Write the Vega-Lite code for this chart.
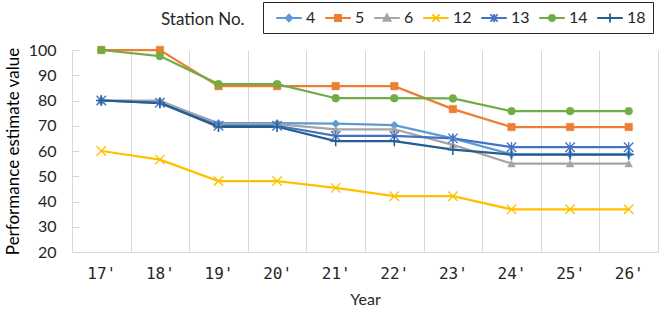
{
  "$schema": "https://vega.github.io/schema/vega-lite/v6.json",
  "width": 663,
  "height": 314,
  "autosize": {"type": "fit", "contains": "padding"},
  "padding": {"left": 4, "right": 5, "top": 11, "bottom": 7},
  "background": "white",
  "title": {
    "text": "Station No.",
    "anchor": "start",
    "frame": "group",
    "dx": 89,
    "offset": 13,
    "fontSize": 17,
    "fontWeight": "normal",
    "font": "Lato",
    "color": "#262626"
  },
  "data": {
    "values": [
      {"year": "17'", "station": "4", "value": 80}, {"year": "18'", "station": "4", "value": 79.6}, {"year": "19'", "station": "4", "value": 71}, {"year": "20'", "station": "4", "value": 71}, {"year": "21'", "station": "4", "value": 70.8}, {"year": "22'", "station": "4", "value": 70.2}, {"year": "23'", "station": "4", "value": 65}, {"year": "24'", "station": "4", "value": 58.7}, {"year": "25'", "station": "4", "value": 58.7}, {"year": "26'", "station": "4", "value": 58.7},
      {"year": "17'", "station": "5", "value": 100}, {"year": "18'", "station": "5", "value": 100}, {"year": "19'", "station": "5", "value": 85.7}, {"year": "20'", "station": "5", "value": 85.7}, {"year": "21'", "station": "5", "value": 85.7}, {"year": "22'", "station": "5", "value": 85.7}, {"year": "23'", "station": "5", "value": 76.6}, {"year": "24'", "station": "5", "value": 69.5}, {"year": "25'", "station": "5", "value": 69.5}, {"year": "26'", "station": "5", "value": 69.5},
      {"year": "17'", "station": "6", "value": 80}, {"year": "18'", "station": "6", "value": 80}, {"year": "19'", "station": "6", "value": 70.6}, {"year": "20'", "station": "6", "value": 70.6}, {"year": "21'", "station": "6", "value": 68.6}, {"year": "22'", "station": "6", "value": 68.6}, {"year": "23'", "station": "6", "value": 62.4}, {"year": "24'", "station": "6", "value": 55}, {"year": "25'", "station": "6", "value": 55}, {"year": "26'", "station": "6", "value": 55},
      {"year": "17'", "station": "12", "value": 60}, {"year": "18'", "station": "12", "value": 56.6}, {"year": "19'", "station": "12", "value": 48.1}, {"year": "20'", "station": "12", "value": 48.1}, {"year": "21'", "station": "12", "value": 45.4}, {"year": "22'", "station": "12", "value": 42.1}, {"year": "23'", "station": "12", "value": 42.1}, {"year": "24'", "station": "12", "value": 36.9}, {"year": "25'", "station": "12", "value": 36.9}, {"year": "26'", "station": "12", "value": 36.9},
      {"year": "17'", "station": "13", "value": 80}, {"year": "18'", "station": "13", "value": 79.1}, {"year": "19'", "station": "13", "value": 70}, {"year": "20'", "station": "13", "value": 70}, {"year": "21'", "station": "13", "value": 66}, {"year": "22'", "station": "13", "value": 66}, {"year": "23'", "station": "13", "value": 65}, {"year": "24'", "station": "13", "value": 61.5}, {"year": "25'", "station": "13", "value": 61.5}, {"year": "26'", "station": "13", "value": 61.5},
      {"year": "17'", "station": "14", "value": 100}, {"year": "18'", "station": "14", "value": 97.6}, {"year": "19'", "station": "14", "value": 86.5}, {"year": "20'", "station": "14", "value": 86.5}, {"year": "21'", "station": "14", "value": 80.9}, {"year": "22'", "station": "14", "value": 80.9}, {"year": "23'", "station": "14", "value": 80.8}, {"year": "24'", "station": "14", "value": 75.8}, {"year": "25'", "station": "14", "value": 75.8}, {"year": "26'", "station": "14", "value": 75.8},
      {"year": "17'", "station": "18", "value": 80}, {"year": "18'", "station": "18", "value": 79}, {"year": "19'", "station": "18", "value": 69.6}, {"year": "20'", "station": "18", "value": 69.6}, {"year": "21'", "station": "18", "value": 63.9}, {"year": "22'", "station": "18", "value": 63.9}, {"year": "23'", "station": "18", "value": 60.5}, {"year": "24'", "station": "18", "value": 58.6}, {"year": "25'", "station": "18", "value": 58.6}, {"year": "26'", "station": "18", "value": 58.6}
    ]
  },
  "encoding": {
    "x": {
      "field": "year",
      "type": "ordinal",
      "sort": null,
      "bandPosition": 0.5,
      "scale": {"type": "band", "paddingInner": 0, "paddingOuter": 0},
      "axis": {
        "title": "Year",
        "labelAngle": 0,
        "tickBand": "extent",
        "grid": true,
        "gridColor": "#D9D9D9",
        "gridWidth": 1,
        "domainColor": "#D9D9D9",
        "ticks": false,
        "labelPadding": 13,
        "labelFontSize": 16,
        "labelFont": "DejaVu Sans Mono",
        "labelColor": "#262626",
        "titleFontSize": 16,
        "titleFont": "Lato",
        "titleFontWeight": "normal",
        "titleColor": "#262626",
        "titlePadding": 10
      }
    },
    "y": {
      "field": "value",
      "type": "quantitative",
      "scale": {"domain": [20, 100], "nice": false, "zero": false},
      "axis": {
        "title": "Performance estimate value",
        "values": [20, 30, 40, 50, 60, 70, 80, 90, 100],
        "grid": false,
        "domainColor": "#D9D9D9",
        "tickColor": "#D9D9D9",
        "tickSize": -7,
        "labelPadding": 23,
        "labelFontSize": 16,
        "labelFont": "Lato",
        "labelColor": "#262626",
        "titleFontSize": 17,
        "titleFont": "Lato",
        "titleFontWeight": "normal",
        "titleColor": "#000000",
        "titlePadding": 6
      }
    },
    "stroke": {
      "field": "station",
      "type": "nominal",
      "scale": {
        "domain": ["4", "5", "6", "12", "13", "14", "18"],
        "range": ["#5B9BD5", "#ED7D31", "#A5A5A5", "#FFC000", "#4472C4", "#70AD47", "#255E91"]
      },
      "legend": {
        "title": null,
        "orient": "none",
        "legendX": 191,
        "legendY": -48,
        "direction": "horizontal",
        "columns": 7,
        "gridAlign": "each",
        "strokeColor": "#262626",
        "padding": 7,
        "columnPadding": 3,
        "symbolOffset": 10,
        "labelOffset": 8,
        "symbolSize": 256,
        "symbolStrokeWidth": 1.8,
        "symbolOpacity": 1,
        "labelFontSize": 16,
        "labelFont": "Lato",
        "labelColor": "#262626"
      }
    }
  },
  "layer": [
    {"mark": {"type": "line", "strokeWidth": 2.25}},
    {
      "transform": [{"filter": {"field": "station", "equal": "4"}}],
      "mark": {"type": "point", "filled": true, "opacity": 1, "shape": "diamond", "size": 64, "strokeWidth": 0.5},
      "encoding": {"fill": {"field": "station", "type": "nominal"}}
    },
    {
      "transform": [{"filter": {"field": "station", "equal": "5"}}],
      "mark": {"type": "point", "filled": true, "opacity": 1, "shape": "square", "size": 56, "strokeWidth": 0.5},
      "encoding": {"fill": {"field": "station", "type": "nominal"}}
    },
    {
      "transform": [{"filter": {"field": "station", "equal": "6"}}],
      "mark": {"type": "point", "filled": true, "opacity": 1, "shape": "triangle-up", "size": 60, "strokeWidth": 0.5},
      "encoding": {"fill": {"field": "station", "type": "nominal"}}
    },
    {
      "transform": [{"filter": {"field": "station", "equal": "12"}}],
      "mark": {"type": "point", "filled": false, "opacity": 1, "shape": "M-1,-1L1,1M-1,1L1,-1", "size": 90, "strokeWidth": 1.3}
    },
    {
      "transform": [{"filter": {"field": "station", "equal": "13"}}],
      "mark": {"type": "point", "filled": false, "opacity": 1, "shape": "M-1,-1L1,1M-1,1L1,-1M0,-1.1L0,1.1", "size": 90, "strokeWidth": 1.3}
    },
    {
      "transform": [{"filter": {"field": "station", "equal": "14"}}],
      "mark": {"type": "point", "filled": true, "opacity": 1, "shape": "circle", "size": 60, "strokeWidth": 0.5},
      "encoding": {"fill": {"field": "station", "type": "nominal"}}
    },
    {
      "transform": [{"filter": {"field": "station", "equal": "18"}}],
      "mark": {"type": "point", "filled": false, "opacity": 1, "shape": "M-1.1,0L1.1,0M0,-1.1L0,1.1", "size": 90, "strokeWidth": 1.5}
    },
    {
      "mark": {"type": "point", "opacity": 0, "size": 256, "strokeWidth": 1.8},
      "encoding": {
        "fill": {
          "field": "station",
          "type": "nominal",
          "scale": {
            "domain": ["4", "5", "6", "12", "13", "14", "18"],
            "range": ["#5B9BD5", "#ED7D31", "#A5A5A5", "#FFC000", "#4472C4", "#70AD47", "#255E91"]
          },
          "legend": {
            "title": null,
            "orient": "none",
            "legendX": 191,
            "legendY": -48,
            "direction": "horizontal",
            "columns": 7,
            "gridAlign": "each",
            "strokeColor": "#262626",
            "padding": 7,
            "columnPadding": 3,
            "symbolOffset": 10,
            "labelOffset": 8,
            "symbolSize": 256,
            "symbolStrokeWidth": 1.8,
            "symbolOpacity": 1,
            "labelFontSize": 16,
            "labelFont": "Lato",
            "labelColor": "#262626"
          }
        },
        "shape": {
          "field": "station",
          "type": "nominal",
          "scale": {
            "domain": ["4", "5", "6", "12", "13", "14", "18"],
            "range": [
              "M-1.6,0L1.6,0M0,-0.42L0.42,0L0,0.42L-0.42,0Z",
              "M-1.6,0L1.6,0M-0.38,-0.38L0.38,-0.38L0.38,0.38L-0.38,0.38Z",
              "M-1.6,0L1.6,0M0,-0.45L0.45,0.35L-0.45,0.35Z",
              "M-1.6,0L1.6,0M-0.45,-0.45L0.45,0.45M-0.45,0.45L0.45,-0.45",
              "M-1.6,0L1.6,0M-0.45,-0.45L0.45,0.45M-0.45,0.45L0.45,-0.45M0,-0.5L0,0.5",
              "M-1.6,0L1.6,0M-0.38,0A0.38,0.38,0,1,1,0.38,0A0.38,0.38,0,1,1,-0.38,0Z",
              "M-1.6,0L1.6,0M0,-0.55L0,0.55"
            ]
          },
          "legend": {
            "title": null,
            "orient": "none",
            "legendX": 191,
            "legendY": -48,
            "direction": "horizontal",
            "columns": 7,
            "gridAlign": "each",
            "strokeColor": "#262626",
            "padding": 7,
            "columnPadding": 3,
            "symbolOffset": 10,
            "labelOffset": 8,
            "symbolSize": 256,
            "symbolStrokeWidth": 1.8,
            "symbolOpacity": 1,
            "labelFontSize": 16,
            "labelFont": "Lato",
            "labelColor": "#262626"
          }
        }
      }
    }
  ],
  "config": {
    "view": {"stroke": null}
  }
}
